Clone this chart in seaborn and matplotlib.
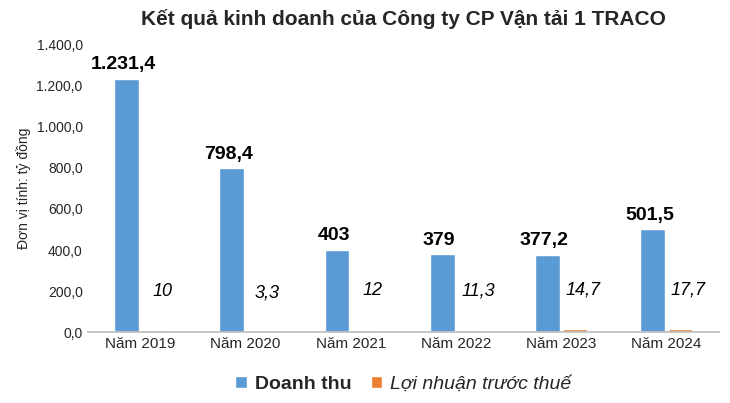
import matplotlib
matplotlib.use("Agg")
import matplotlib.pyplot as plt
import seaborn as sns
import pandas as pd

years = ["Năm 2019", "Năm 2020", "Năm 2021", "Năm 2022", "Năm 2023", "Năm 2024"]
revenue = [1231.4, 798.4, 403, 379, 377.2, 501.5]
profit = [10, 3.3, 12, 11.3, 14.7, 17.7]
rev_labels = ["1.231,4", "798,4", "403", "379", "377,2", "501,5"]
prof_labels = ["10", "3,3", "12", "11,3", "14,7", "17,7"]

df = pd.DataFrame({
    "year": years * 2,
    "value": revenue + profit,
    "series": ["Doanh thu"] * 6 + ["Lợi nhuận trước thuế"] * 6,
})

sns.set_theme(style="white")
plt.rcParams['font.family'] = ['Liberation Sans', 'DejaVu Sans']
fig, ax = plt.subplots(figsize=(7.3, 4.03), dpi=100)
sns.barplot(data=df, x="year", y="value", hue="series", saturation=1,
            palette=["#5B9BD5", "#ED7D31"], width=0.52, gap=0.1, ax=ax)

blue_c, orange_c = ax.containers[0], ax.containers[1]
for bar, lab in zip(blue_c, rev_labels):
    ax.annotate(lab, (bar.get_x() + bar.get_width() / 2 - 0.03, bar.get_height()),
                xytext=(0, 4), textcoords="offset points", ha="center", va="bottom",
                fontsize=14, fontweight="bold", color="black")
for bar, lab in zip(orange_c, prof_labels):
    ax.annotate(lab, (bar.get_x() + bar.get_width() / 2 + 0.08, bar.get_height()),
                xytext=(0, 22), textcoords="offset points", ha="center", va="bottom",
                fontsize=13, fontstyle="italic", color="black")

ax.set_ylim(0, 1400)
ax.set_yticks(range(0, 1401, 200))
ax.set_yticklabels([f"{v:,.1f}".replace(",", "X").replace(".", ",").replace("X", ".") for v in range(0, 1401, 200)],
                   fontsize=10)
ax.tick_params(axis="x", labelsize=11, length=0)
ax.tick_params(axis="y", length=0)
ax.set_xlabel("")
ax.set_ylabel("Đơn vị tính: tỷ đồng", fontsize=10)
for s in ["top", "right", "left"]:
    ax.spines[s].set_visible(False)
ax.spines["bottom"].set_color("#BFBFBF")
ax.set_title("Kết quả kinh doanh của Công ty CP Vận tải 1 TRACO", fontsize=15,
             fontweight="bold", pad=14)

leg = ax.legend(loc="upper center", bbox_to_anchor=(0.5, -0.09), ncol=2, frameon=False,
                fontsize=14, handlelength=0.6, handleheight=0.6, columnspacing=1.0, handletextpad=0.4)
leg.get_texts()[0].set_fontweight("bold")
leg.get_texts()[1].set_fontstyle("italic")

fig.subplots_adjust(left=0.12, right=0.985, top=0.89, bottom=0.175)
fig.savefig("out.png", dpi=100)
